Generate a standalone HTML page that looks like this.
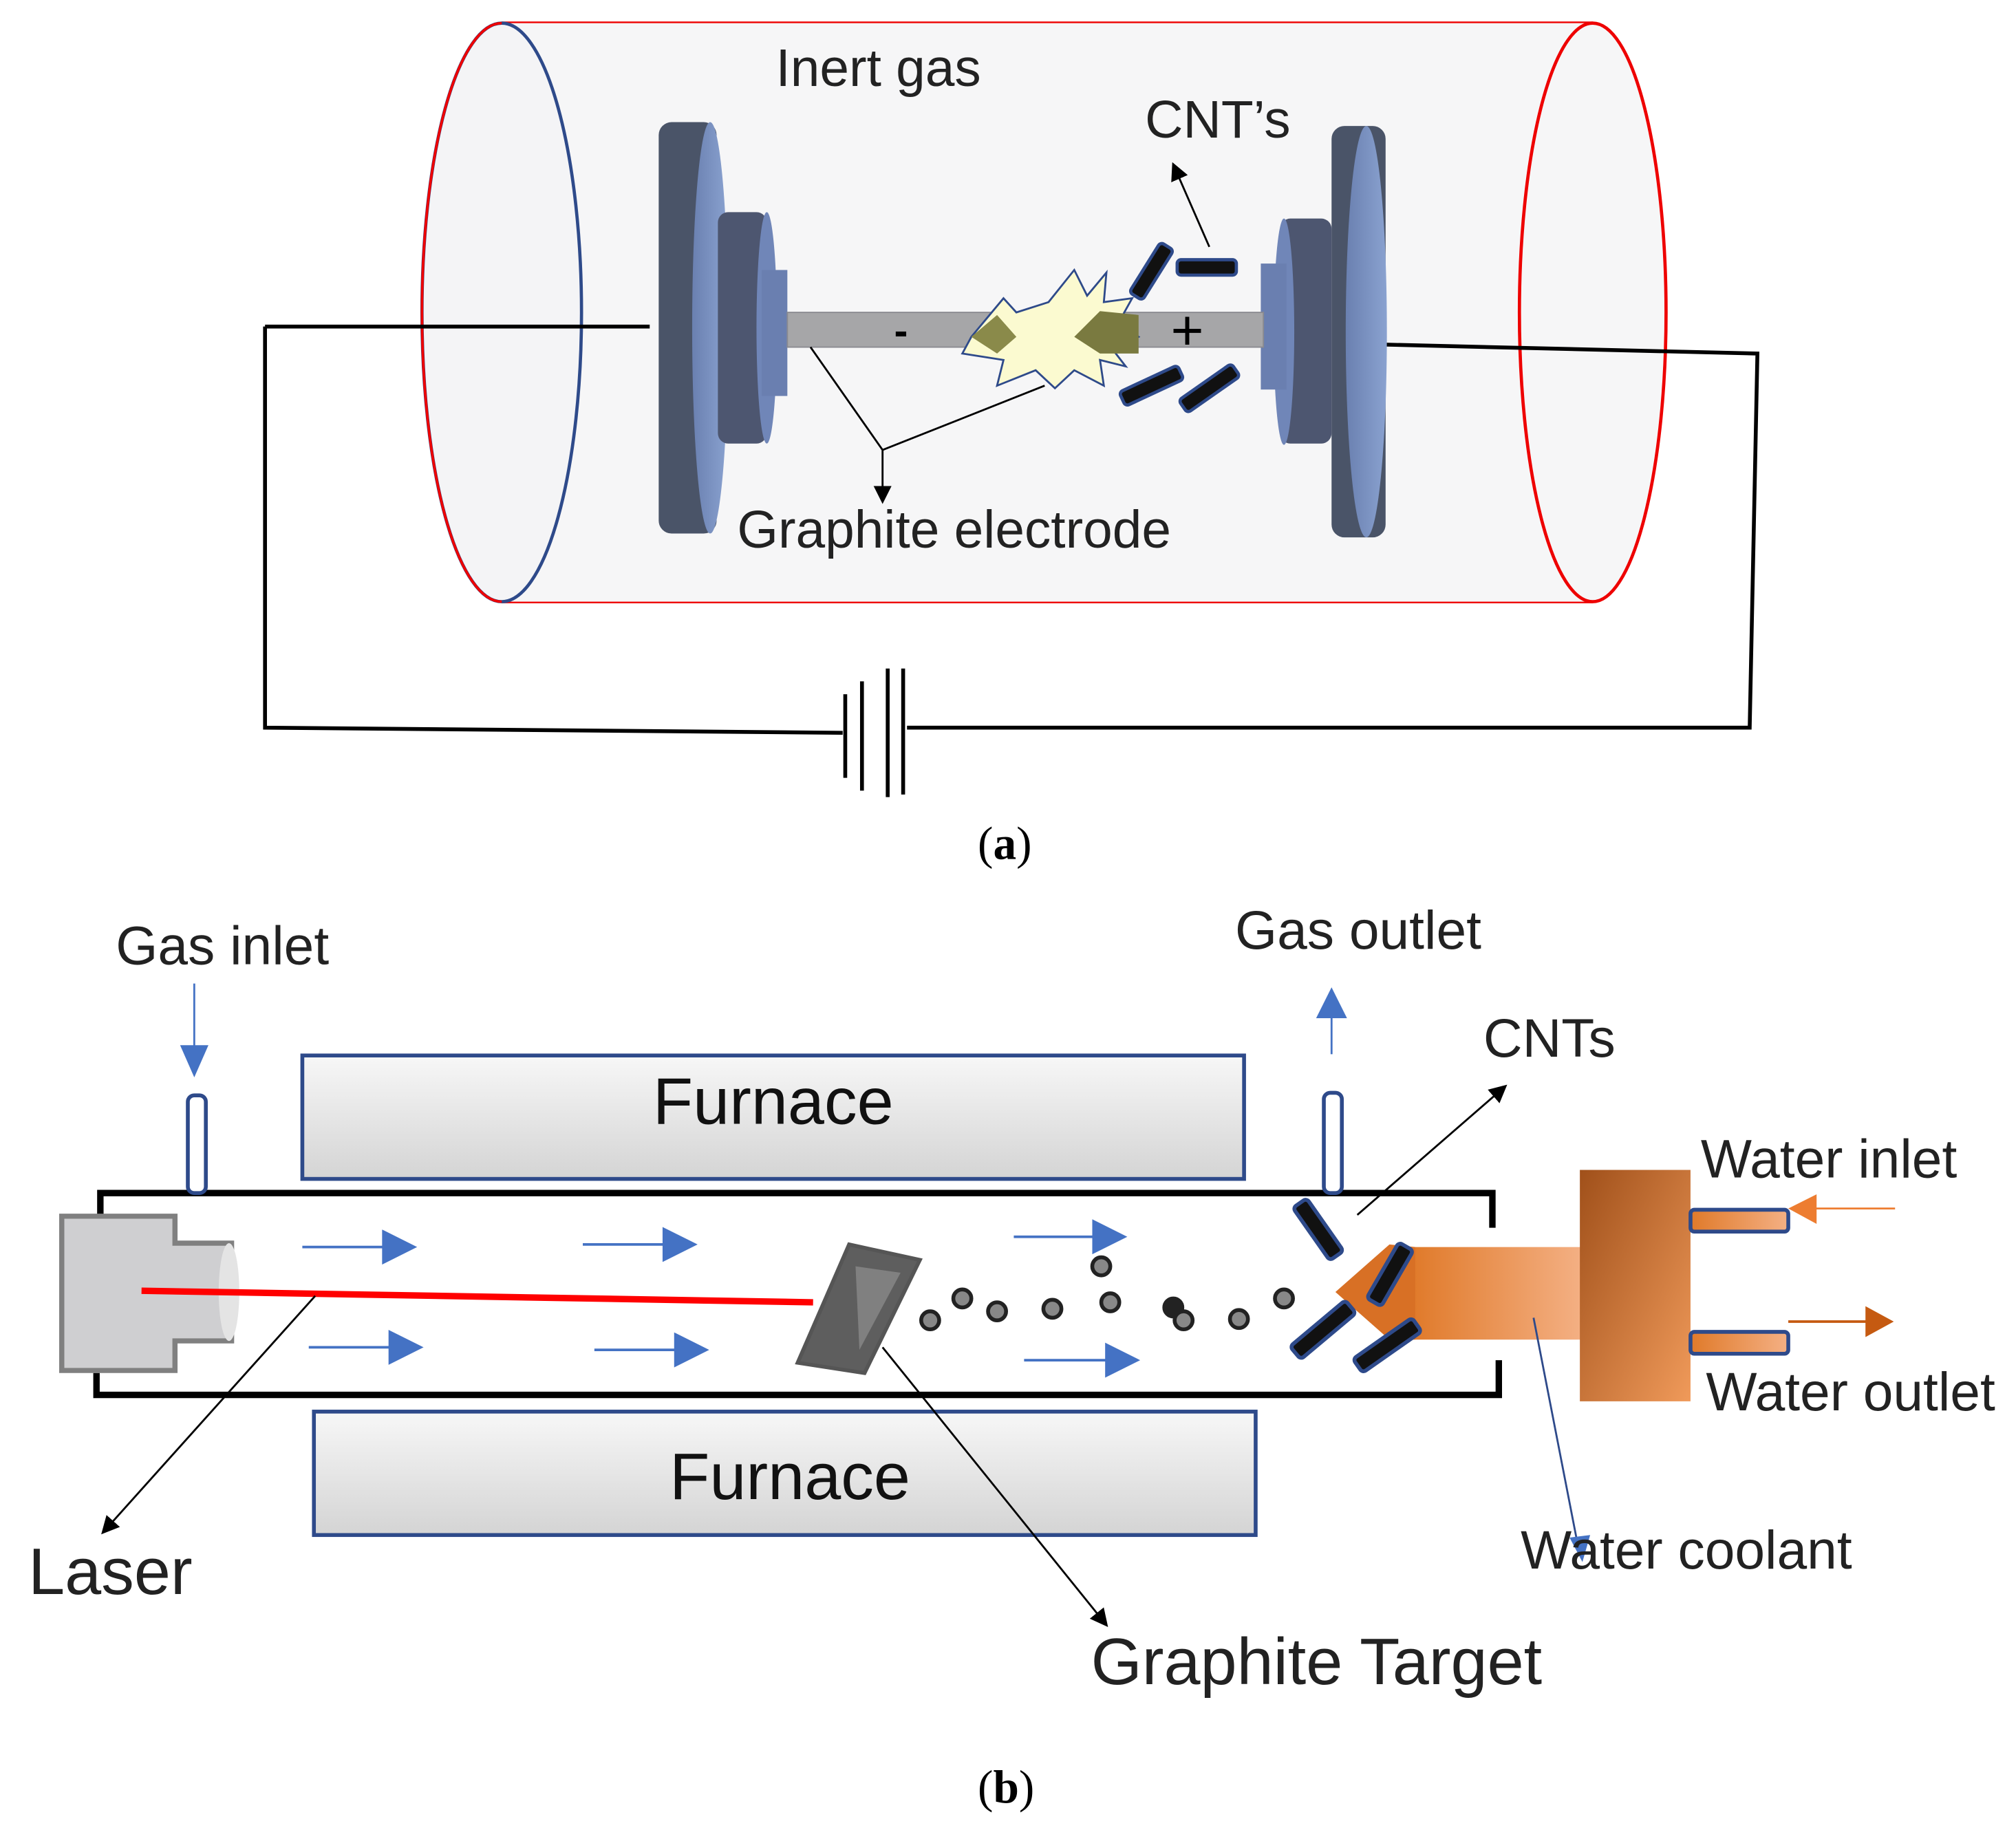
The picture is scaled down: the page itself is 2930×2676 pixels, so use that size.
<!DOCTYPE html>
<html><head><meta charset="utf-8"><style>html,body{margin:0;padding:0;background:#fff}svg{display:block}text{font-family:"Liberation Sans",sans-serif}</style></head>
<body>
<svg width="2930" height="2676" viewBox="0 0 1567 1432" preserveAspectRatio="none" xmlns="http://www.w3.org/2000/svg">
<defs>
<linearGradient id="furn" x1="0" y1="0" x2="0" y2="1"><stop offset="0" stop-color="#f7f7f7"/><stop offset="1" stop-color="#d4d4d4"/></linearGradient>
<linearGradient id="or" x1="0" y1="0" x2="1" y2="0"><stop offset="0" stop-color="#e07a2a"/><stop offset="1" stop-color="#f4b084"/></linearGradient>
<linearGradient id="or2" x1="0" y1="0" x2="1" y2="1"><stop offset="0" stop-color="#a0501a"/><stop offset="1" stop-color="#f09a5a"/></linearGradient>
<linearGradient id="disc" x1="0" y1="0" x2="1" y2="0"><stop offset="0" stop-color="#6a80b0"/><stop offset="1" stop-color="#8aa2d0"/></linearGradient>
<marker id="ab" markerWidth="14" markerHeight="14" refX="12" refY="7" orient="auto" markerUnits="userSpaceOnUse"><path d="M0,0L14,7L0,14z" fill="#000"/></marker>
</defs>
<!-- (a) cylinder -->
<path d="M390,18 L1238,18 M390,468 L1238,468" stroke="#e00" stroke-width="2.5"/>
<rect x="390" y="18" width="848" height="450" fill="#f6f6f7"/>
<ellipse cx="1238" cy="243" rx="57" ry="225" fill="#f6f6f7" stroke="#e00" stroke-width="2.5"/>
<ellipse cx="390" cy="243" rx="62" ry="225" fill="#f4f4f6" stroke="#2e4a8a" stroke-width="2.5"/>
<path d="M390,18 A62,225 0 0 0 390,468" fill="none" stroke="#e00" stroke-width="2"/>
<path d="M206,254 L505,254 M206,254 L206,566 L655,570 M705,566 L1360,566 L1366,275 L1075,268" fill="none" stroke="#000" stroke-width="3"/>
<path d="M657,540 V605 M670,530 V615 M690,520 V620 M702,520 V618" stroke="#000" stroke-width="3"/>
<!-- left discs -->
<rect x="512" y="95" width="45" height="320" rx="10" fill="#4a5468"/><ellipse cx="552" cy="255" rx="14" ry="160" fill="url(#disc)"/>
<rect x="558" y="165" width="38" height="180" rx="8" fill="#4d5670"/><ellipse cx="596" cy="255" rx="8" ry="90" fill="#7086b8"/>
<rect x="592" y="210" width="20" height="98" fill="#6a7fb0"/>
<rect x="612" y="243" width="200" height="27" fill="#a6a6a8" stroke="#8a8a90"/>
<!-- right discs -->
<rect x="1035" y="98" width="42" height="320" rx="10" fill="#4a5468"/><ellipse cx="1062" cy="258" rx="16" ry="160" fill="url(#disc)"/>
<rect x="995" y="170" width="40" height="175" rx="8" fill="#4d5670"/><ellipse cx="998" cy="258" rx="8" ry="88" fill="#7086b8"/>
<rect x="980" y="205" width="20" height="98" fill="#6a7fb0"/>
<rect x="860" y="243" width="122" height="27" fill="#a6a6a8" stroke="#8a8a90"/>
<polygon points="755,262 780,232 790,243 815,235 835,210 845,230 860,212 858,235 880,232 870,250 885,262 865,272 875,285 855,280 858,300 835,288 820,302 805,288 775,300 780,280 748,275" fill="#fbfad0" stroke="#2e4a8a" stroke-width="1.5"/>
<polygon points="755,262 775,245 790,262 775,275" fill="#8a8a4a"/>
<polygon points="835,262 855,242 885,245 885,275 855,275" fill="#7a7a40"/>
<text x="695" y="268" font-size="32" font-weight="bold">-</text>
<text x="910" y="272" font-size="44">+</text>
<g fill="#111" stroke="#2e4a8a" stroke-width="2.5">
<rect x="915" y="202" width="46" height="12" rx="3"/>
<rect x="872" y="205" width="46" height="12" rx="3" transform="rotate(-58 895 211)"/>
<rect x="870" y="294" width="50" height="12" rx="3" transform="rotate(-25 895 300)"/>
<rect x="915" y="296" width="50" height="12" rx="3" transform="rotate(-35 940 302)"/>
</g>
<path d="M940,192 L912,128" stroke="#000" stroke-width="1.5" marker-end="url(#ab)"/>
<path d="M630,270 L686,350 L812,300 M686,350 L686,390" stroke="#000" stroke-width="1.5" fill="none" marker-end="url(#ab)"/>
<text x="603" y="67" font-size="41" fill="#222">Inert gas</text>
<text x="890" y="107" font-size="41" fill="#222">CNT’s</text>
<text x="573" y="426" font-size="41" fill="#222">Graphite electrode</text>
<text x="760" y="668" font-size="36" style="font-family:'Liberation Serif',serif">(<tspan font-weight="bold">a</tspan>)</text>
<!-- (b) -->
<rect x="235" y="821" width="732" height="96" fill="url(#furn)" stroke="#2e4a8a" stroke-width="3"/>
<rect x="244" y="1098" width="732" height="96" fill="url(#furn)" stroke="#2e4a8a" stroke-width="3"/>
<text x="601" y="874" font-size="51" text-anchor="middle" fill="#111">Furnace</text>
<text x="614" y="1166" font-size="51" text-anchor="middle" fill="#111">Furnace</text>
<path d="M78,945 V928 H1160 V955 M1165,1058 V1085 H75 V1068" fill="none" stroke="#000" stroke-width="5"/>
<rect x="146" y="852" width="14" height="76" rx="5" fill="#fff" stroke="#2e4a8a" stroke-width="3"/>
<rect x="1029" y="850" width="14" height="78" rx="5" fill="#fff" stroke="#2e4a8a" stroke-width="3"/>
<path d="M151,765 V815" stroke="#4472c4" stroke-width="1.5"/><polygon points="140,813 162,813 151,838" fill="#4472c4"/>
<path d="M1035,820 V790" stroke="#4472c4" stroke-width="1.5"/><polygon points="1023,792 1047,792 1035,768" fill="#4472c4"/>
<path d="M48,946 H136 V967 H180 V1043 H136 V1066 H48 Z" fill="#cfcfd1" stroke="#808080" stroke-width="4"/>
<ellipse cx="178" cy="1005" rx="8" ry="38" fill="#e4e4e4"/>
<path d="M110,1004 L632,1013" stroke="#f00" stroke-width="5"/>
<g fill="#4472c4" stroke="#4472c4" stroke-width="2">
<path d="M235,970 H300 M453,968 H518 M788,962 H852 M240,1048 H305 M462,1050 H527 M796,1058 H862"/>
<polygon points="298,958 322,970 298,982"/><polygon points="516,956 540,968 516,980"/><polygon points="850,950 874,962 850,974"/>
<polygon points="303,1036 327,1048 303,1060"/><polygon points="525,1038 549,1050 525,1062"/><polygon points="860,1046 884,1058 860,1070"/>
</g>
<polygon points="660,968 715,980 672,1068 620,1060" fill="#5e5e5e" stroke="#555" stroke-width="3"/>
<polygon points="665,985 700,990 668,1050" fill="#808080"/>
<g fill="#888" stroke="#222" stroke-width="3">
<circle cx="723" cy="1027" r="7"/><circle cx="748" cy="1010" r="7"/><circle cx="775" cy="1020" r="7"/><circle cx="818" cy="1018" r="7"/><circle cx="863" cy="1013" r="7"/><circle cx="856" cy="985" r="7"/><circle cx="912" cy="1017" r="7" fill="#222"/><circle cx="920" cy="1027" r="7"/><circle cx="963" cy="1026" r="7"/><circle cx="998" cy="1010" r="7"/>
</g>
<rect x="1098" y="970" width="132" height="72" fill="url(#or)"/>
<polygon points="1080,968 1100,970 1100,1042 1080,1042 1038,1005" fill="#d87025"/>
<rect x="1228" y="910" width="86" height="180" fill="url(#or2)"/>
<rect x="1314" y="941" width="76" height="17" rx="3" fill="url(#or)" stroke="#2e4a8a" stroke-width="3"/>
<rect x="1314" y="1036" width="76" height="17" rx="3" fill="url(#or)" stroke="#2e4a8a" stroke-width="3"/>
<path d="M1473,940 H1410" stroke="#ed7d31" stroke-width="1.5"/><polygon points="1412,929 1412,952 1390,940" fill="#ed7d31"/>
<path d="M1390,1028 H1452" stroke="#c55a11" stroke-width="2"/><polygon points="1450,1016 1450,1040 1472,1028" fill="#c55a11"/>
<g fill="#111" stroke="#2e4a8a" stroke-width="3">
<rect x="1000" y="950" width="50" height="13" rx="3" transform="rotate(55 1025 956)"/>
<rect x="1055" y="985" width="50" height="13" rx="3" transform="rotate(-60 1080 991)"/>
<rect x="1000" y="1028" width="56" height="13" rx="3" transform="rotate(-40 1028 1034)"/>
<rect x="1050" y="1040" width="56" height="13" rx="3" transform="rotate(-35 1078 1046)"/>
</g>
<path d="M1055,945 L1170,845" stroke="#000" stroke-width="1.5" marker-end="url(#ab)"/>
<path d="M245,1008 L80,1192" stroke="#000" stroke-width="1.5" marker-end="url(#ab)"/>
<path d="M686,1048 L860,1264" stroke="#000" stroke-width="1.5" marker-end="url(#ab)"/>
<path d="M1192,1025 L1228,1210" stroke="#2e4a8a" stroke-width="1.5"/><polygon points="1220,1196 1236,1194 1230,1215" fill="#4472c4"/>
<text x="90" y="750" font-size="42" fill="#222">Gas inlet</text>
<text x="960" y="738" font-size="42" fill="#222">Gas outlet</text>
<text x="1153" y="822" font-size="42" fill="#222">CNTs</text>
<text x="1322" y="916" font-size="42" fill="#222">Water inlet</text>
<text x="1326" y="1097" font-size="42" fill="#222">Water outlet</text>
<text x="1182" y="1220" font-size="42" fill="#222">Water coolant</text>
<text x="22" y="1240" font-size="51" fill="#222">Laser</text>
<text x="848" y="1310" font-size="51" fill="#222">Graphite Target</text>
<text x="760" y="1402" font-size="36" style="font-family:'Liberation Serif',serif">(<tspan font-weight="bold">b</tspan>)</text>
</svg>
</body></html>
